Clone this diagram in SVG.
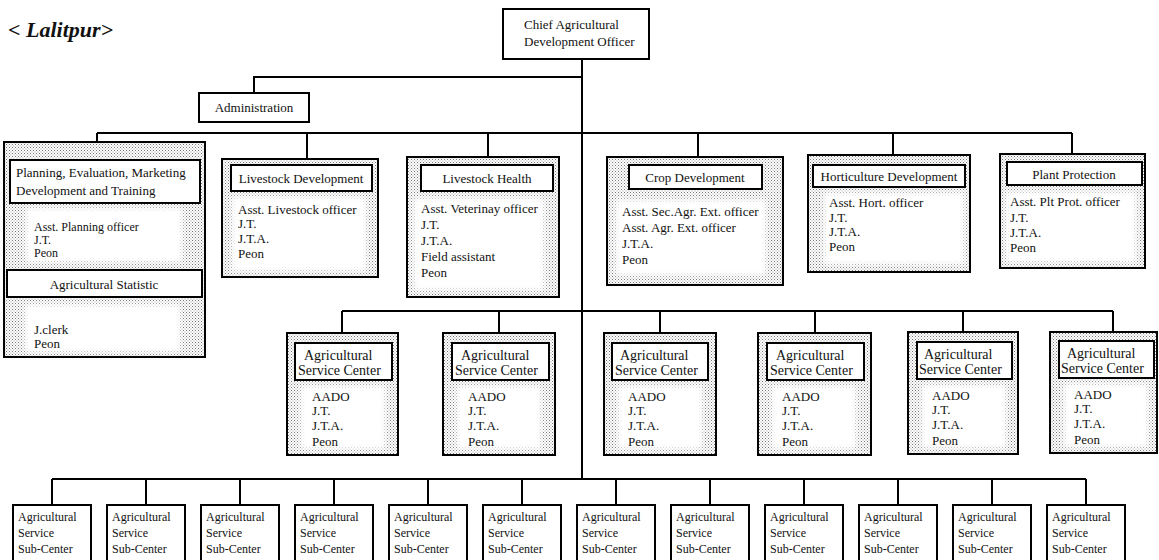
<svg xmlns="http://www.w3.org/2000/svg" width="1159" height="560" viewBox="0 0 1159 560">
  <defs>
    <!-- stipple fill used for the shaded unit panels -->
    <pattern id="stip" width="3" height="3" patternUnits="userSpaceOnUse">
      <rect width="3" height="3" fill="#fff"/>
      <rect x="0" y="0" width="1" height="1" fill="#777"/>
      <rect x="1.5" y="1.5" width="1" height="1" fill="#999"/>
    </pattern>
    <filter id="soft" x="-10%" y="-10%" width="120%" height="120%">
      <feGaussianBlur stdDeviation="2.5"/>
    </filter>
  </defs>
  <style>
    text { font-family: "Liberation Serif", "Times New Roman", serif; font-size: 13px; fill: #111; }
    .title { font-size: 22px; font-weight: bold; font-style: italic; }
    .mid { text-anchor: middle; }
    .sm { font-size: 12px; }
    .hd { font-size: 14px; }
    .box { fill: #fff; stroke: #000; stroke-width: 2; }
    .panel { fill: url(#stip); stroke: #000; stroke-width: 2; }
    .clear { fill: #fff; filter: url(#soft); }
    .wire { fill: none; stroke: #000; stroke-width: 2; }
  </style>

  <rect width="1159" height="560" fill="#fff"/>

  <text class="title" x="8" y="37">&lt; Lalitpur&gt;</text>

  <!-- connectors -->
  <g id="connectors" class="wire">
    <path d="M582 59 V479"/>
    <path d="M582 77 H254 V93"/>
    <!-- section bus -->
    <path d="M97 133 H1072"/>
    <path d="M97 133 V142 M307 133 V159 M488 133 V157 M698 133 V157 M893 133 V155 M1072 133 V154"/>
    <!-- service center bus -->
    <path d="M342 311 H1113"/>
    <path d="M342 311 V333 M499 311 V333 M660 311 V333 M815 311 V333 M963 311 V332 M1113 311 V332"/>
    <!-- sub-center bus -->
    <path d="M52 479 H1086"/>
    <path d="M52 479 V505 M146 479 V505 M240 479 V505 M334 479 V505 M428 479 V505 M522 479 V505 M616 479 V505 M710 479 V505 M804 479 V505 M898 479 V505 M992 479 V505 M1086 479 V505"/>
  </g>

  <g id="chief">
    <rect class="box" x="503" y="9" width="146" height="50"/>
    <text x="524" y="29">Chief Agricultural</text>
    <text x="524" y="46">Development Officer</text>
  </g>

  <g id="administration">
    <rect class="box" x="199" y="93" width="110" height="29"/>
    <text class="mid" x="254" y="112">Administration</text>
  </g>

  <g id="planning">
    <rect class="panel" x="4" y="142" width="201" height="215"/>
    <rect class="box" x="10" y="160" width="190" height="43"/>
    <text x="16" y="177" font-size="12.5">Planning, Evaluation, Marketing</text>
    <text x="16" y="195" font-size="12.5">Development and Training</text>
    <rect class="clear" x="26" y="208" width="156" height="54"/>
    <text class="sm" x="34" y="231">Asst. Planning officer</text>
    <text class="sm" x="34" y="244">J.T.</text>
    <text class="sm" x="34" y="257">Peon</text>
    <rect class="box" x="7" y="270" width="195" height="27"/>
    <text class="mid" x="104" y="289">Agricultural Statistic</text>
    <rect class="clear" x="25" y="305" width="155" height="47"/>
    <text x="34" y="334">J.clerk</text>
    <text x="34" y="348">Peon</text>
  </g>

  <g id="livestock-development">
    <rect class="panel" x="222" y="159" width="156" height="118"/>
    <rect class="box" x="231" y="165" width="141" height="26"/>
    <text class="mid" x="301" y="183">Livestock Development</text>
    <rect class="clear" x="232" y="197" width="134" height="74"/>
    <text x="238" y="214">Asst. Livestock officer</text>
    <text x="238" y="228">J.T.</text>
    <text x="238" y="243">J.T.A.</text>
    <text x="238" y="258">Peon</text>
  </g>

  <g id="livestock-health">
    <rect class="panel" x="407" y="157" width="152" height="140"/>
    <rect class="box" x="421" y="165" width="132" height="26"/>
    <text class="mid" x="487" y="183">Livestock Health</text>
    <rect class="clear" x="414" y="198" width="130" height="92"/>
    <text x="421" y="213">Asst. Veterinay officer</text>
    <text x="421" y="229">J.T.</text>
    <text x="421" y="245">J.T.A.</text>
    <text x="421" y="261">Field assistant</text>
    <text x="421" y="277">Peon</text>
  </g>

  <g id="crop-development">
    <rect class="panel" x="607" y="157" width="176" height="128"/>
    <rect class="box" x="629" y="165" width="133" height="24"/>
    <text class="mid" x="695" y="182">Crop Development</text>
    <rect class="clear" x="616" y="200" width="150" height="75"/>
    <text x="622" y="216">Asst. Sec.Agr. Ext. officer</text>
    <text x="622" y="232">Asst. Agr. Ext. officer</text>
    <text x="622" y="248">J.T.A.</text>
    <text x="622" y="264">Peon</text>
  </g>

  <g id="horticulture">
    <rect class="panel" x="808" y="155" width="162" height="117"/>
    <rect class="box" x="813" y="165" width="152" height="22"/>
    <text class="mid" x="889" y="181">Horticulture Development</text>
    <rect class="clear" x="824" y="193" width="140" height="71"/>
    <text x="829" y="207">Asst. Hort. officer</text>
    <text x="829" y="222">J.T.</text>
    <text x="829" y="236">J.T.A.</text>
    <text x="829" y="251">Peon</text>
  </g>

  <g id="plant-protection">
    <rect class="panel" x="1000" y="154" width="145" height="114"/>
    <rect class="box" x="1007" y="162" width="135" height="23"/>
    <text class="mid" x="1074" y="179">Plant Protection</text>
    <rect class="clear" x="1006" y="192" width="130" height="70"/>
    <text x="1010" y="206">Asst. Plt Prot. officer</text>
    <text x="1010" y="222">J.T.</text>
    <text x="1010" y="237">J.T.A.</text>
    <text x="1010" y="252">Peon</text>
  </g>

  <!-- agricultural service centers -->
  <g id="asc-1">
    <rect class="panel" x="287" y="333" width="111" height="122"/>
    <rect class="box" x="295" y="343" width="97" height="37"/>
    <text class="hd" x="304" y="360">Agricultural</text>
    <text class="hd" x="298" y="375">Service Center</text>
    <rect class="clear" x="301" y="386" width="84" height="63"/>
    <text x="312" y="401">AADO</text>
    <text x="312" y="415">J.T.</text>
    <text x="312" y="430">J.T.A.</text>
    <text x="312" y="446">Peon</text>
  </g>
  <g id="asc-2">
    <rect class="panel" x="443" y="333" width="112" height="122"/>
    <rect class="box" x="452" y="343" width="97" height="37"/>
    <text class="hd" x="461" y="360">Agricultural</text>
    <text class="hd" x="455" y="375">Service Center</text>
    <rect class="clear" x="457" y="386" width="84" height="63"/>
    <text x="468" y="401">AADO</text>
    <text x="468" y="415">J.T.</text>
    <text x="468" y="430">J.T.A.</text>
    <text x="468" y="446">Peon</text>
  </g>
  <g id="asc-3">
    <rect class="panel" x="604" y="333" width="112" height="122"/>
    <rect class="box" x="612" y="343" width="96" height="37"/>
    <text class="hd" x="620" y="360">Agricultural</text>
    <text class="hd" x="615" y="375">Service Center</text>
    <rect class="clear" x="618" y="386" width="84" height="63"/>
    <text x="628" y="401">AADO</text>
    <text x="628" y="415">J.T.</text>
    <text x="628" y="430">J.T.A.</text>
    <text x="628" y="446">Peon</text>
  </g>
  <g id="asc-4">
    <rect class="panel" x="758" y="333" width="113" height="122"/>
    <rect class="box" x="767" y="343" width="97" height="37"/>
    <text class="hd" x="776" y="360">Agricultural</text>
    <text class="hd" x="770" y="375">Service Center</text>
    <rect class="clear" x="772" y="386" width="84" height="63"/>
    <text x="782" y="401">AADO</text>
    <text x="782" y="415">J.T.</text>
    <text x="782" y="430">J.T.A.</text>
    <text x="782" y="446">Peon</text>
  </g>
  <g id="asc-5">
    <rect class="panel" x="908" y="332" width="110" height="122"/>
    <rect class="box" x="917" y="342" width="95" height="37"/>
    <text class="hd" x="924" y="359">Agricultural</text>
    <text class="hd" x="919" y="374">Service Center</text>
    <rect class="clear" x="922" y="385" width="84" height="63"/>
    <text x="932" y="400">AADO</text>
    <text x="932" y="414">J.T.</text>
    <text x="932" y="429">J.T.A.</text>
    <text x="932" y="445">Peon</text>
  </g>
  <g id="asc-6">
    <rect class="panel" x="1050" y="332" width="107" height="121"/>
    <rect class="box" x="1059" y="341" width="95" height="37"/>
    <text class="hd" x="1067" y="358">Agricultural</text>
    <text class="hd" x="1061" y="373">Service Center</text>
    <rect class="clear" x="1064" y="384" width="84" height="63"/>
    <text x="1074" y="399">AADO</text>
    <text x="1074" y="413">J.T.</text>
    <text x="1074" y="428">J.T.A.</text>
    <text x="1074" y="444">Peon</text>
  </g>

  <!-- agricultural service sub-centers -->
  <g id="assc-1"><rect class="box" x="13" y="505" width="78" height="58"/><text class="sm" x="18" y="521">Agricultural</text><text class="sm" x="18" y="537">Service</text><text class="sm" x="18" y="553">Sub-Center</text></g>
  <g id="assc-2"><rect class="box" x="107" y="505" width="78" height="58"/><text class="sm" x="112" y="521">Agricultural</text><text class="sm" x="112" y="537">Service</text><text class="sm" x="112" y="553">Sub-Center</text></g>
  <g id="assc-3"><rect class="box" x="201" y="505" width="78" height="58"/><text class="sm" x="206" y="521">Agricultural</text><text class="sm" x="206" y="537">Service</text><text class="sm" x="206" y="553">Sub-Center</text></g>
  <g id="assc-4"><rect class="box" x="295" y="505" width="78" height="58"/><text class="sm" x="300" y="521">Agricultural</text><text class="sm" x="300" y="537">Service</text><text class="sm" x="300" y="553">Sub-Center</text></g>
  <g id="assc-5"><rect class="box" x="389" y="505" width="78" height="58"/><text class="sm" x="394" y="521">Agricultural</text><text class="sm" x="394" y="537">Service</text><text class="sm" x="394" y="553">Sub-Center</text></g>
  <g id="assc-6"><rect class="box" x="483" y="505" width="78" height="58"/><text class="sm" x="488" y="521">Agricultural</text><text class="sm" x="488" y="537">Service</text><text class="sm" x="488" y="553">Sub-Center</text></g>
  <g id="assc-7"><rect class="box" x="577" y="505" width="78" height="58"/><text class="sm" x="582" y="521">Agricultural</text><text class="sm" x="582" y="537">Service</text><text class="sm" x="582" y="553">Sub-Center</text></g>
  <g id="assc-8"><rect class="box" x="671" y="505" width="78" height="58"/><text class="sm" x="676" y="521">Agricultural</text><text class="sm" x="676" y="537">Service</text><text class="sm" x="676" y="553">Sub-Center</text></g>
  <g id="assc-9"><rect class="box" x="765" y="505" width="78" height="58"/><text class="sm" x="770" y="521">Agricultural</text><text class="sm" x="770" y="537">Service</text><text class="sm" x="770" y="553">Sub-Center</text></g>
  <g id="assc-10"><rect class="box" x="859" y="505" width="78" height="58"/><text class="sm" x="864" y="521">Agricultural</text><text class="sm" x="864" y="537">Service</text><text class="sm" x="864" y="553">Sub-Center</text></g>
  <g id="assc-11"><rect class="box" x="953" y="505" width="78" height="58"/><text class="sm" x="958" y="521">Agricultural</text><text class="sm" x="958" y="537">Service</text><text class="sm" x="958" y="553">Sub-Center</text></g>
  <g id="assc-12"><rect class="box" x="1047" y="505" width="78" height="58"/><text class="sm" x="1052" y="521">Agricultural</text><text class="sm" x="1052" y="537">Service</text><text class="sm" x="1052" y="553">Sub-Center</text></g>
</svg>
